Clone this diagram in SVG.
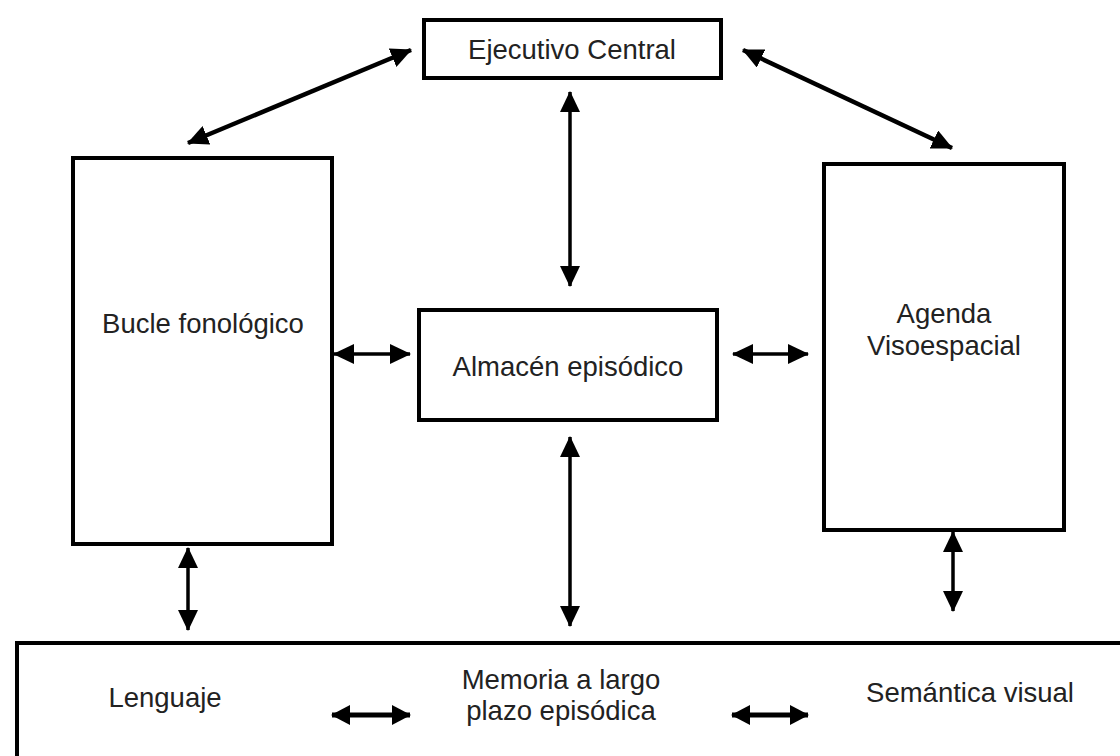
<svg xmlns="http://www.w3.org/2000/svg" width="1120" height="756" viewBox="0 0 1120 756">
<style>
.box{fill:#fff;stroke:#000;stroke-width:4}
.t{font-family:"Liberation Sans",Arial,sans-serif;font-size:27.5px;fill:#222;text-anchor:middle}
.c{stroke:#000;stroke-width:3.5;fill:none;marker-start:url(#ah);marker-end:url(#ah)}
.d{stroke-width:4.5}
.cs{stroke:#000;stroke-width:5;fill:none;marker-start:url(#ah2);marker-end:url(#ah2)}
</style>
<defs>
<marker id="ah" markerUnits="userSpaceOnUse" markerWidth="22" markerHeight="20" refX="20" refY="10" orient="auto-start-reverse" viewBox="0 0 22 20">
<path d="M0,0 L21,10 L0,20 z" fill="#000"/>
</marker>
<marker id="ah2" markerUnits="userSpaceOnUse" markerWidth="20" markerHeight="20" refX="18" refY="10" orient="auto-start-reverse" viewBox="0 0 20 20">
<path d="M0,0 L19,10 L0,20 z" fill="#000"/>
</marker>
</defs>
<rect width="1120" height="756" fill="#fff"/>
<g id="ejecutivo">
<rect class="box" x="424" y="20" width="297" height="58"/>
<text class="t" x="572" y="59">Ejecutivo Central</text>
</g>
<g id="bucle">
<rect class="box" x="73" y="158" width="259" height="386"/>
<text class="t" x="203" y="333">Bucle fonológico</text>
</g>
<g id="almacen">
<rect class="box" x="419" y="310" width="298" height="110"/>
<text class="t" x="568" y="376">Almacén episódico</text>
</g>
<g id="agenda">
<rect class="box" x="824" y="164" width="240" height="366"/>
<text class="t" x="944" y="323">Agenda</text>
<text class="t" x="944" y="355">Visoespacial</text>
</g>
<g id="memoria">
<rect class="box" x="17" y="643" width="1130" height="150"/>
<text class="t" x="165" y="707">Lenguaje</text>
<text class="t" x="561" y="689">Memoria a largo</text>
<text class="t" x="561" y="720">plazo episódica</text>
<text class="t" x="970" y="702">Semántica visual</text>
</g>
<g id="connectors">
<line class="c d" x1="188" y1="143" x2="411" y2="50"/>
<line class="c d" x1="743" y1="50" x2="952" y2="148"/>
<line class="c" x1="570" y1="92" x2="570" y2="286"/>
<line class="c" x1="334" y1="354" x2="410" y2="354"/>
<line class="c" x1="733" y1="354" x2="808" y2="354"/>
<line class="c" x1="570" y1="437" x2="570" y2="626"/>
<line class="c" x1="188" y1="548" x2="188" y2="630"/>
<line class="c" x1="953" y1="532" x2="953" y2="611"/>
<line class="cs" x1="332" y1="715" x2="410" y2="715"/>
<line class="cs" x1="732" y1="715" x2="808" y2="715"/>
</g>
</svg>
